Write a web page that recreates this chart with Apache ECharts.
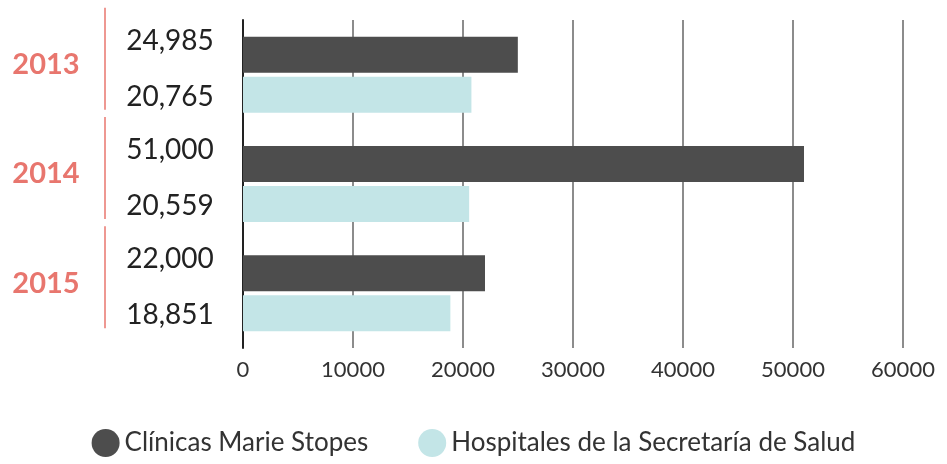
<!DOCTYPE html>
<html>
<head>
<meta charset="utf-8">
<script src="https://cdn.jsdelivr.net/npm/echarts@6/dist/echarts.min.js"></script>
<style>html,body{margin:0;padding:0;background:#fff}#c{width:947px;height:464px}</style>
</head>
<body>
<div id="c"></div>
<script>
var categories = ['2013', '2014', '2015'];
var seriesNames = ['Clínicas Marie Stopes', 'Hospitales de la Secretaría de Salud'];
var clinicas = [24985, 51000, 22000];
var hospitales = [20765, 20559, 18851];
var xMin = 0, xMax = 60000, xStep = 10000;

var fmt = function (v) { return Number(v).toLocaleString('en-US'); };
var chart = echarts.init(document.getElementById('c'));
var valueLabel = function (dy) {
  return {
    show: true, position: 'left', distance: 73, align: 'center',
    offset: [0, dy], color: '#222', fontSize: 28, fontFamily: 'Lato',
    formatter: function (p) { return fmt(p.value); }
  };
};
chart.setOption({
  animation: false,
  grid: { left: 243, right: 44, top: 20, bottom: 116 },
  legend: {
    left: 'center', top: 424, icon: 'circle', itemWidth: 28, itemHeight: 28, itemGap: 50,
    textStyle: { fontSize: 26, color: '#333', fontFamily: 'Lato' },
    data: seriesNames
  },
  xAxis: {
    type: 'value', min: xMin, max: xMax, interval: xStep,
    axisLine: { show: false }, axisTick: { show: false },
    splitLine: { show: true, lineStyle: { color: '#666', width: 1.5 } },
    axisLabel: { fontSize: 22, color: '#333', fontFamily: 'Lato', margin: 11,
      formatter: function (v) { return String(v); } }
  },
  yAxis: {
    type: 'category', data: categories, inverse: true,
    axisLine: { show: true, lineStyle: { color: '#222', width: 2 } },
    axisTick: { show: false },
    axisLabel: {
      margin: 197, align: 'center', verticalAlign: 'bottom', lineHeight: 20,
      color: '#e8766e', fontSize: 29, fontWeight: 'bold', fontFamily: 'Lato'
    }
  },
  series: [
    { name: seriesNames[0], type: 'bar', data: clinicas, barWidth: 36, barGap: '11%',
      itemStyle: { color: '#4d4d4d' }, label: valueLabel(-14) },
    { name: seriesNames[1], type: 'bar', data: hospitales, barWidth: 36,
      itemStyle: { color: '#c3e5e7' }, label: valueLabel(2) }
  ]
});
var g = [];
categories.forEach(function (c) {
  var y = chart.convertToPixel({ yAxisIndex: 0 }, c);
  g.push({ type: 'line', shape: { x1: 105, y1: y - 67, x2: 105, y2: y + 35 },
    style: { stroke: '#e8766e', lineWidth: 1.5 } });
});
chart.setOption({ graphic: g });
</script>
</body>
</html>
